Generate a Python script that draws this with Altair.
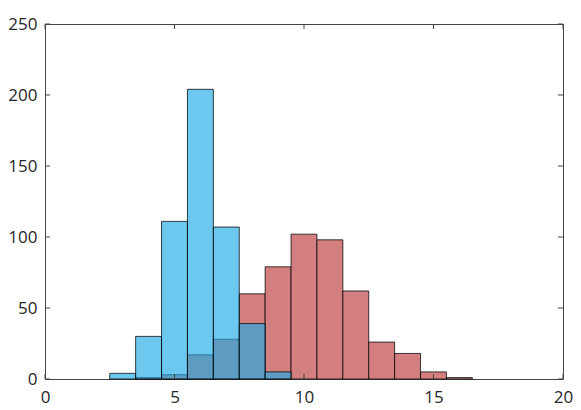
import altair as alt
import pandas as pd

# histogram bins (bin width 1)
blue_bin_starts = [2.5, 3.5, 4.5, 5.5, 6.5, 7.5, 8.5]
blue_counts = [4, 30, 111, 204, 107, 39, 5]

red_bin_starts = [3.5, 4.5, 5.5, 6.5, 7.5, 8.5, 9.5, 10.5, 11.5, 12.5, 13.5, 14.5, 15.5]
red_counts = [1, 3, 17, 28, 60, 79, 102, 98, 62, 26, 18, 5, 1]

bin_width = 1.0
x_ticks = [0, 5, 10, 15, 20]
y_ticks = [0, 50, 100, 150, 200, 250]

W, H = 518, 355
FONT = "Open Sans"
AXIS_COLOR = "#444444"


def bins(starts, counts):
    return pd.DataFrame({
        "start": starts,
        "end": [s + bin_width for s in starts],
        "count": counts,
        "base": [0] * len(starts),
    })


x_scale = alt.Scale(domain=[0, 20], nice=False, zero=False)
y_scale = alt.Scale(domain=[0, 250], nice=False)

x_axis = alt.Axis(values=x_ticks, ticks=False, domain=False, grid=False,
                  labelFlush=False, labelPadding=10, labelFontSize=17,
                  labelFont=FONT, labelColor="#262626", title=None)
y_axis = alt.Axis(values=y_ticks, ticks=False, domain=False, grid=False,
                  labelFlush=False, labelPadding=8, labelFontSize=17,
                  labelFont=FONT, labelColor="#262626", title=None)


def bars(starts, counts, **style):
    return alt.Chart(bins(starts, counts)).mark_rect(
        stroke="black", strokeWidth=1, strokeOpacity=0.75, **style
    ).encode(
        x=alt.X("start:Q", scale=x_scale, axis=x_axis),
        x2="end:Q",
        y=alt.Y("count:Q", scale=y_scale, axis=y_axis),
        y2="base:Q",
    )


red = bars(red_bin_starts, red_counts, color="#D47F7F")
blue = bars(blue_bin_starts, blue_counts, color="#1DABE5", fillOpacity=0.65)

# inward ticks on all four sides, MATLAB style
xt = pd.DataFrame({"v": x_ticks})
yt = pd.DataFrame({"v": y_ticks})

tick_bottom = alt.Chart(xt).mark_rule(color=AXIS_COLOR).encode(
    x=alt.X("v:Q", scale=x_scale, axis=x_axis), y=alt.value(H - 5), y2=alt.value(H))
tick_top = alt.Chart(xt).mark_rule(color=AXIS_COLOR).encode(
    x=alt.X("v:Q", scale=x_scale, axis=x_axis), y=alt.value(0), y2=alt.value(5))
tick_left = alt.Chart(yt).mark_rule(color=AXIS_COLOR).encode(
    y=alt.Y("v:Q", scale=y_scale, axis=y_axis), x=alt.value(0), x2=alt.value(5))
tick_right = alt.Chart(yt).mark_rule(color=AXIS_COLOR).encode(
    y=alt.Y("v:Q", scale=y_scale, axis=y_axis), x=alt.value(W - 5), x2=alt.value(W))

chart = alt.layer(red, blue, tick_bottom, tick_top, tick_left, tick_right).properties(
    width=W,
    height=H,
    autosize=alt.AutoSizeParams(type="none"),
    padding={"left": 37, "top": 16, "right": 10, "bottom": 30},
    background="white",
).configure_view(
    stroke=AXIS_COLOR,
    strokeWidth=1,
)

chart.save("out.html", embed_options={"renderer": "svg", "actions": False})
